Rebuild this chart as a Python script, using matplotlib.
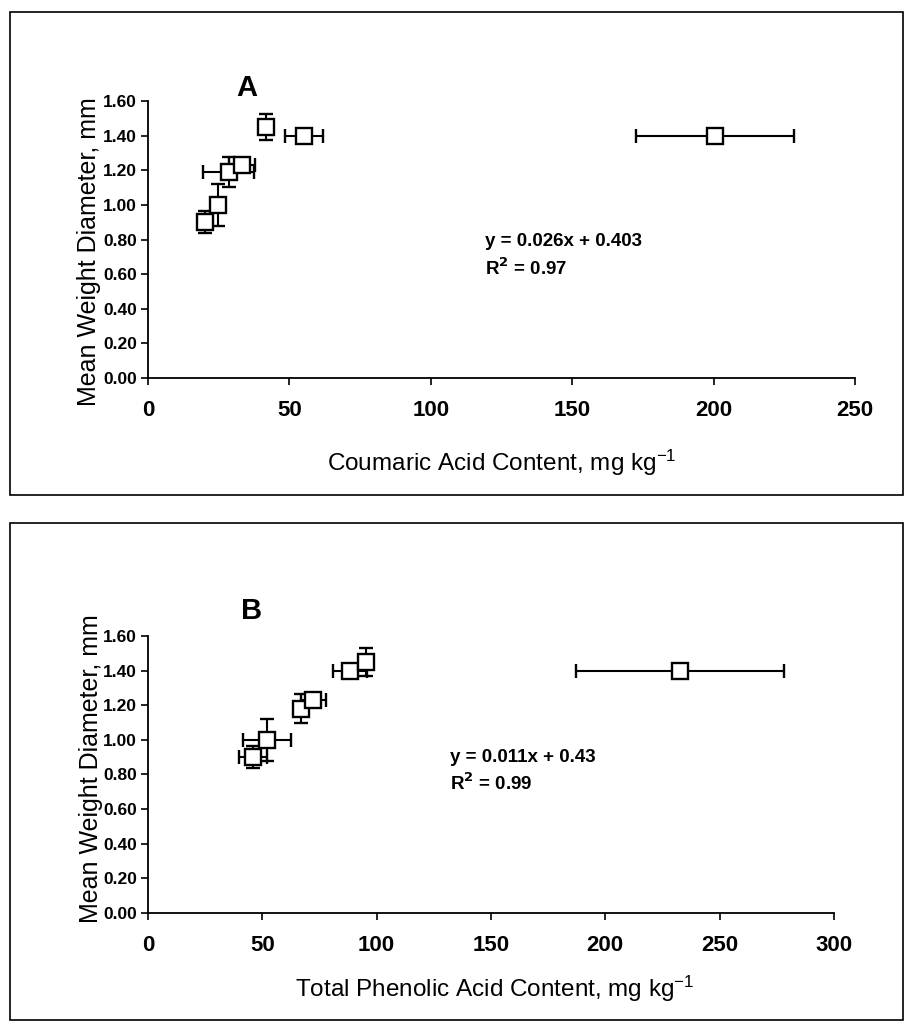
import matplotlib
matplotlib.use("Agg")
import matplotlib.pyplot as plt
from matplotlib.patches import Rectangle

plt.rcParams['font.family'] = ['Liberation Sans', 'DejaVu Sans']
plt.rcParams['mathtext.default'] = 'regular'

# panel A: coumaric acid
coum_x = [20.0, 24.9, 28.5, 33.1, 41.8, 55.1, 200.4]
coum_y = [0.90, 1.00, 1.19, 1.23, 1.45, 1.40, 1.40]
coum_xerr = [1.0, 1.0, 9.0, 4.6, 2.5, 6.8, 28.0]
coum_yerr = [0.065, 0.12, 0.085, 0.04, 0.077, 0.03, 0.03]

# panel B: total phenolic acid
phen_x = [46.0, 52.1, 66.8, 72.3, 88.4, 95.5, 232.7]
phen_y = [0.90, 1.00, 1.18, 1.23, 1.40, 1.45, 1.40]
phen_xerr = [6.0, 10.6, 2.0, 5.4, 7.5, 3.0, 45.5]
phen_yerr = [0.065, 0.12, 0.085, 0.04, 0.03, 0.08, 0.03]

y_ticks = [0.0, 0.2, 0.4, 0.6, 0.8, 1.0, 1.2, 1.4, 1.6]
xticks_a = [0, 50, 100, 150, 200, 250]
xticks_b = [0, 50, 100, 150, 200, 250, 300]

fig = plt.figure(figsize=(9.05, 10.22), dpi=100)

# frames around each panel
fig.patches.append(Rectangle((0.011, 0.5157), 0.987, 0.4726, transform=fig.transFigure,
                             fill=False, edgecolor='black', linewidth=1.2))
fig.patches.append(Rectangle((0.011, 0.002), 0.987, 0.486, transform=fig.transFigure,
                             fill=False, edgecolor='black', linewidth=1.2))

axA = fig.add_axes([0.1635, 0.6301, 0.7812, 0.2711])
axB = fig.add_axes([0.1635, 0.1067, 0.758, 0.2710])


def setup(ax, x, y, xerr, yerr, xticks, xlabel, letter, letter_pos, eq, eq_pos, ylab_y, xlab_pos):
    ax.errorbar(x, y, xerr=xerr, yerr=yerr, fmt='s', mfc='white', mec='black', mew=1.7,
                ms=11.5, ecolor='black', elinewidth=1.5, capsize=5, capthick=1.5, zorder=3)
    ax.set_xlim(xticks[0], xticks[-1])
    ax.set_ylim(0, 1.6)
    ax.set_xticks(xticks)
    ax.set_yticks(y_ticks)
    ax.set_yticklabels(['%.2f' % v for v in y_ticks], fontweight='bold', fontsize=12.5)
    ax.set_xticklabels([str(v) for v in xticks], fontweight='bold', fontsize=16)
    ax.spines['top'].set_visible(False)
    ax.spines['right'].set_visible(False)
    ax.spines['left'].set_linewidth(1.3)
    ax.spines['bottom'].set_linewidth(1.3)
    ax.tick_params(axis='y', direction='out', length=5, width=1.2, pad=3)
    ax.tick_params(axis='x', direction='out', length=5, width=1.2, pad=11)
    ax.set_ylabel('Mean Weight Diameter, mm', fontsize=18)
    ax.yaxis.set_label_coords(-0.066, ylab_y)
    ax.set_xlabel(xlabel, fontsize=17.5)
    ax.xaxis.set_label_coords(xlab_pos[0], xlab_pos[1])
    ax.text(letter_pos[0], letter_pos[1], letter, transform=ax.transAxes, fontsize=21,
            fontweight='bold', ha='left', va='center')
    ax.text(eq_pos[0], eq_pos[1], eq[0], transform=ax.transAxes, fontsize=13.5,
            fontweight='bold', ha='left', va='center')
    ax.text(eq_pos[0], eq_pos[1] - 0.095, eq[1], transform=ax.transAxes, fontsize=13.5,
            fontweight='bold', ha='left', va='center')


setup(axA, coum_x, coum_y, coum_xerr, coum_yerr, xticks_a,
      'Coumaric Acid Content, mg kg$^{-1}$', 'A', (0.125, 1.047),
      ('y = 0.026x + 0.403', r'R$\mathbf{^2}$ = 0.97'), (0.477, 0.491), 0.455, (0.50, -0.25))
setup(axB, phen_x, phen_y, phen_xerr, phen_yerr, xticks_b,
      'Total Phenolic Acid Content, mg kg$^{-1}$', 'B', (0.135, 1.09),
      ('y = 0.011x + 0.43', r'R$\mathbf{^2}$ = 0.99'), (0.44, 0.563), 0.52, (0.506, -0.22))

fig.savefig('out.png', dpi=100)
